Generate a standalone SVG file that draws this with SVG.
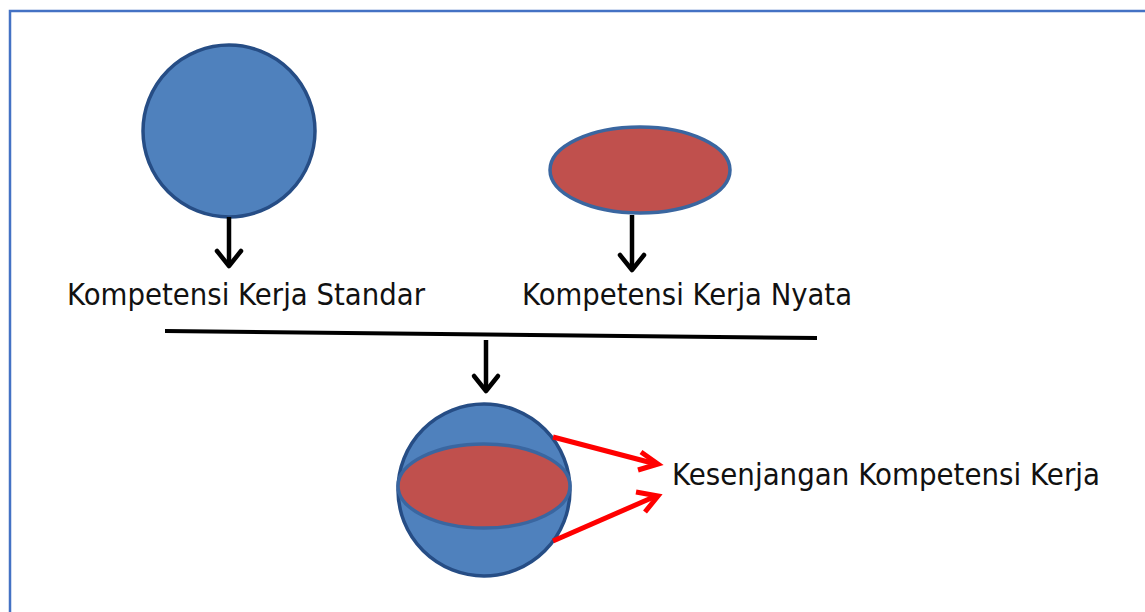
<svg xmlns="http://www.w3.org/2000/svg" width="1145" height="612" viewBox="0 0 1145 612">
<defs>
<style>
.blue{fill:#4F81BD;stroke:#264D85;stroke-width:3.5}
.red{fill:#C0504D;stroke:#3A66A0;stroke-width:3.5}
.conn{stroke:#000;stroke-width:4.5;fill:none}
.head{stroke:#000;stroke-width:4.5;fill:none;stroke-linecap:round;stroke-linejoin:round}
.rconn{stroke:#FF0000;stroke-width:5;fill:none}
.rhead{stroke:#FF0000;stroke-width:5;fill:none;stroke-linejoin:miter}
.lbl{font-family:"DejaVu Sans",Verdana,sans-serif;font-size:30px;fill:#111}
</style>
</defs>
<rect x="0" y="0" width="1145" height="612" fill="#fff"/>
<path d="M10 700 V11 H1200" fill="none" stroke="#4472C4" stroke-width="2.5"/>
<g id="node-standar">
<circle class="blue" cx="229" cy="131" r="86"/>
</g>
<g id="node-nyata">
<ellipse class="red" cx="640" cy="170" rx="90" ry="43"/>
</g>
<g id="node-gap">
<circle class="blue" cx="484" cy="490" r="86"/>
<ellipse class="red" cx="484" cy="486" rx="86" ry="42"/>
</g>
<g id="label-standar"><text class="lbl" x="67" y="305" textLength="358" lengthAdjust="spacingAndGlyphs">Kompetensi Kerja Standar</text></g>
<g id="label-nyata"><text class="lbl" x="522" y="305" textLength="330" lengthAdjust="spacingAndGlyphs">Kompetensi Kerja Nyata</text></g>
<g id="label-gap"><text class="lbl" x="672" y="485" textLength="428" lengthAdjust="spacingAndGlyphs">Kesenjangan Kompetensi Kerja</text></g>
<g id="connectors">
<line class="conn" x1="229" y1="217" x2="229" y2="266"/>
<polyline class="head" points="217,251 229,266 241,251"/>
<line class="conn" x1="632" y1="215" x2="632" y2="270"/>
<polyline class="head" points="620,255 632,270 644,255"/>
<line x1="165" y1="331" x2="817" y2="338" stroke="#000" stroke-width="4"/>
<line class="conn" x1="486" y1="340" x2="486" y2="391"/>
<polyline class="head" points="474,376 486,391 498,376"/>
<line class="rconn" x1="553" y1="437" x2="656" y2="464"/>
<polyline class="rhead" points="641,452 658,464 638,470"/>
<line class="rconn" x1="553" y1="541" x2="656" y2="496"/>
<polyline class="rhead" points="636,492 658,496 645,512"/>
</g>
</svg>
